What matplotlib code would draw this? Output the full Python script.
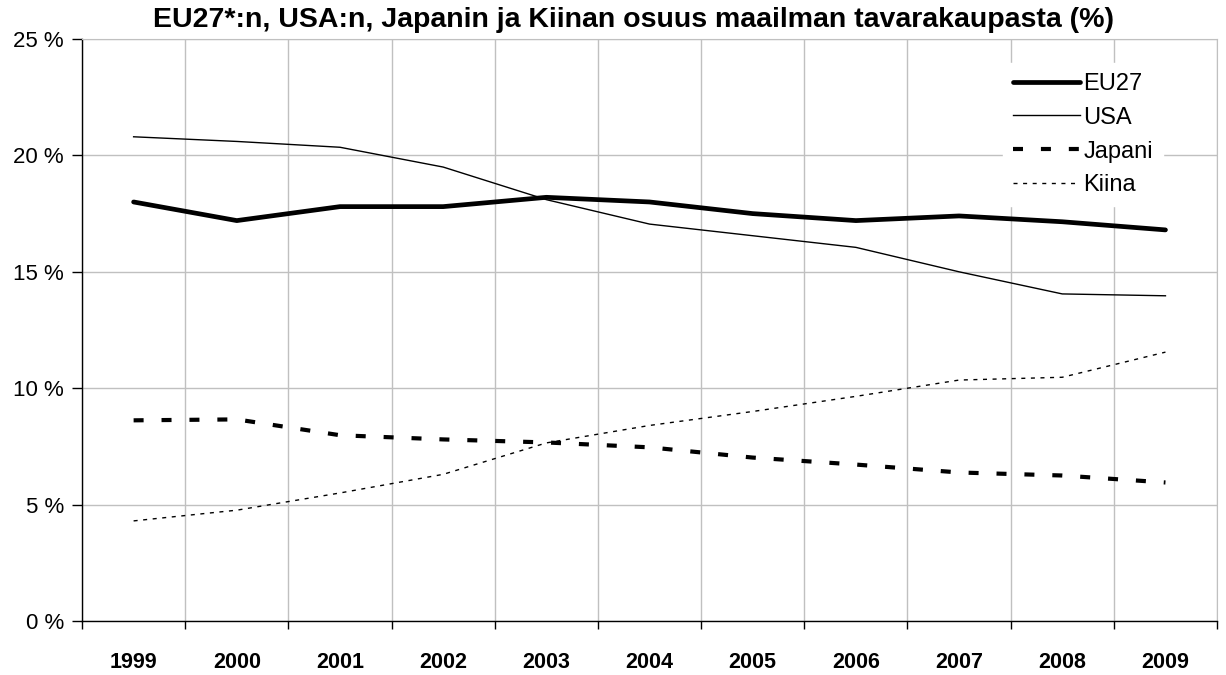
import numpy as np
import matplotlib
matplotlib.use('Agg')
from matplotlib import pyplot as plt
from matplotlib.ticker import FixedLocator, FuncFormatter

plt.rcParams['font.family'] = ['Liberation Sans', 'DejaVu Sans']

years = ['1999', '2000', '2001', '2002', '2003', '2004', '2005', '2006', '2007', '2008', '2009']
eu27   = [18.0, 17.2, 17.8, 17.8, 18.2, 18.0, 17.5, 17.2, 17.4, 17.15, 16.8]
usa    = [20.8, 20.6, 20.35, 19.5, 18.1, 17.05, 16.55, 16.05, 15.0, 14.05, 13.97]
japani = [8.62, 8.66, 7.98, 7.8, 7.67, 7.46, 7.02, 6.72, 6.38, 6.25, 5.95]
kiina  = [4.3, 4.76, 5.5, 6.3, 7.65, 8.4, 9.0, 9.65, 10.35, 10.47, 11.55]

title = 'EU27*:n, USA:n, Japanin ja Kiinan osuus maailman tavarakaupasta (%)'

fig = plt.figure(figsize=(12.26, 6.75), dpi=100)
ax = fig.add_axes([0.0669, 0.08, 0.9258, 0.8622])

x = np.arange(len(years))
ax.plot(x, eu27, color='black', lw=3.4, solid_capstyle='round', label='EU27')
ax.plot(x, usa, color='black', lw=1.0, label='USA')
ax.plot(x, japani, color='black', lw=3.0, dashes=(2.4, 4.3), label='Japani')
ax.plot(x, kiina, color='black', lw=1.0, dashes=(2.9, 4.0), label='Kiina')

ax.set_xlim(-0.5, len(years) - 0.5)
ax.set_ylim(0, 25)

ax.set_xticks(x)
ax.set_xticklabels(years, fontsize=15.5, fontweight='bold')
ax.tick_params(axis='x', which='major', length=0, pad=22)
ax.xaxis.set_minor_locator(FixedLocator(np.arange(-0.5, len(years), 1.0)))
ax.tick_params(axis='x', which='minor', length=6, width=1, color='black', direction='out')

ax.set_yticks(np.arange(0, 26, 5))
ax.yaxis.set_major_formatter(FuncFormatter(lambda v, p: '%d %%' % v))
ax.tick_params(axis='y', length=7, width=1, labelsize=16, pad=6)

ax.grid(axis='x', which='minor', color='#c0c0c0', lw=1.0)
ax.grid(axis='y', which='major', color='#c0c0c0', lw=1.0)
ax.set_axisbelow(True)

for s in ['top', 'right']:
    ax.spines[s].set_color('#c0c0c0')
for s in ['left', 'bottom']:
    ax.spines[s].set_color('black')
    ax.spines[s].set_linewidth(1.0)

leg = ax.legend(loc='upper right', bbox_to_anchor=(0.952, 0.958), fontsize=17,
                frameon=True, fancybox=False, framealpha=1, edgecolor='white',
                facecolor='white', handlelength=2.85, handletextpad=0.15,
                labelspacing=0.5, borderpad=0.4, borderaxespad=0)

fig.text(0.517, 0.97, title, fontsize=20.5, fontweight='bold', ha='center', va='center')

fig.savefig('out.png', dpi=100)
